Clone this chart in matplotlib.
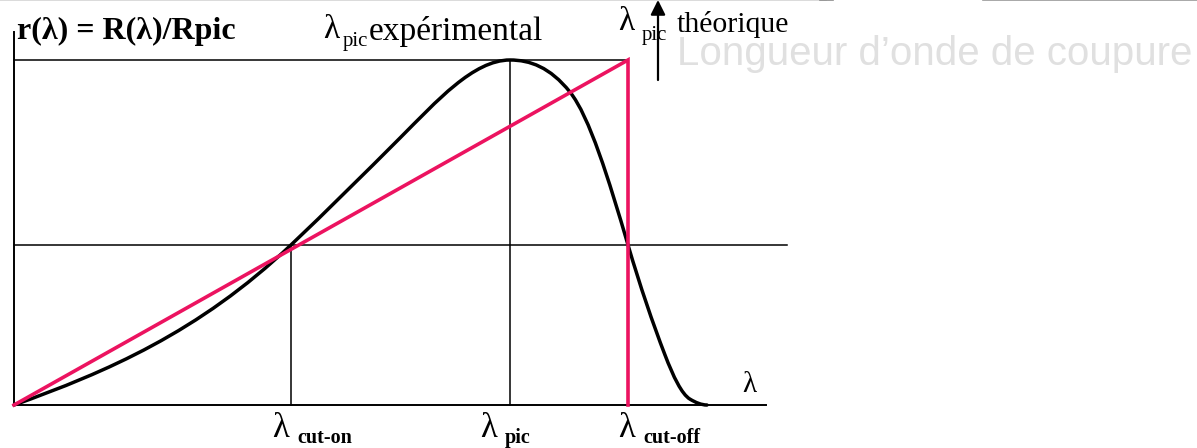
import numpy as np
import matplotlib.pyplot as plt
from matplotlib.path import Path
from matplotlib.patches import PathPatch

# normalised response r(lambda) = R(lambda)/Rpic : knots and local slopes
lam_k = [0.00, 2.77, 3.86, 4.96, 5.56, 6.14, 6.51, 6.76, 6.93]
r_k = [0.000, 0.464, 0.774, 1.000, 0.907, 0.464, 0.145, 0.017, 0.000]
slope_k = [0.104, 0.275, 0.290, 0.0, -0.362, -0.986, -0.754, -0.174, 0.0]

lam_cuton = 2.77
lam_pic = 4.96
lam_cutoff = 6.14
r_cuton = 0.464
lam_theo = 6.44   # arrow for the theoretical peak

red = '#ec1360'
serif = 'Liberation Serif'

fig = plt.figure(figsize=(11.97, 4.48), dpi=100)
ax = fig.add_axes([0, 0, 1, 1])
ax.set_xlim(-0.14, 11.83)
ax.set_ylim(-0.1246, 1.1739)
ax.axis('off')

# frame lines
ax.plot([0, 7.52], [0, 0], color='k', lw=1.4)
ax.plot([0, 0], [0, 1.081], color='k', lw=1.4)
ax.plot([0, lam_cutoff], [1, 1], color='k', lw=1.1)
ax.plot([0, 7.73], [r_cuton, r_cuton], color='k', lw=1.1)
ax.plot([lam_cuton, lam_cuton], [0, r_cuton], color='k', lw=1.1)
ax.plot([lam_pic, lam_pic], [0, 1], color='k', lw=1.1)

# linear approximation up to cut-off
ax.plot([0, lam_cutoff, lam_cutoff], [0, 1, 0], color=red, lw=2.6,
        solid_joinstyle='miter')

# measured curve as cubic segments (Hermite form)
verts = [(lam_k[0], r_k[0])]
codes = [Path.MOVETO]
for i in range(len(lam_k) - 1):
    x0, y0, s0 = lam_k[i], r_k[i], slope_k[i]
    x1, y1, s1 = lam_k[i + 1], r_k[i + 1], slope_k[i + 1]
    d = (x1 - x0) / 3
    verts += [(x0 + d, y0 + s0 * d), (x1 - d, y1 - s1 * d), (x1, y1)]
    codes += [Path.CURVE4] * 3
ax.add_patch(PathPatch(Path(verts, codes), fill=False, edgecolor='k', lw=2.5,
                       capstyle='round'))

# arrow toward theoretical peak
ax.annotate('', xy=(lam_theo, 1.174), xytext=(lam_theo, 0.942),
            annotation_clip=False,
            arrowprops=dict(arrowstyle='-|>', color='k', lw=1.6,
                            mutation_scale=22, shrinkA=0, shrinkB=0))

# top grey rules
ax.plot([0, 0.69], [0.999, 0.999], transform=ax.transAxes, color='#d4d4d4', lw=1.2)
ax.plot([0.685, 0.696], [0.999, 0.999], transform=ax.transAxes, color='#8c8c8c', lw=1.2)
ax.plot([0.821, 1.0], [0.999, 0.999], transform=ax.transAxes, color='#9a9a9a', lw=1.2)

# labels at the top
ax.text(0.03, 1.061, 'r(λ) = R(λ)/Rpic', family=serif, weight='bold',
        fontsize=23, va='baseline', ha='left')
ax.text(3.09, 1.064, 'λ', family=serif, fontsize=24, va='baseline')
ax.text(3.29, 1.040, 'pic', family=serif, fontsize=15, va='baseline')
ax.text(3.55, 1.058, 'expérimental', family=serif, fontsize=24, va='baseline')
ax.text(lam_cutoff - 0.10, 1.088, 'λ', family=serif, fontsize=24, va='baseline')
ax.text(lam_cutoff + 0.14, 1.058, 'pic', family=serif, fontsize=15, va='baseline')
ax.text(lam_cutoff + 0.49, 1.082, 'théorique', family=serif, fontsize=21.5, va='baseline')
ax.text(6.63, 0.985, 'Longueur d’onde de coupure', family='Liberation Sans',
        fontsize=29, color='#e0e0e0', va='baseline')

# wavelength labels under the axis
bottom_labels = [(lam_cuton, 'cut-on', -0.19, 0.06),
                 (lam_pic, 'pic', -0.30, -0.05),
                 (lam_cutoff, 'cut-off', -0.10, 0.15)]
for x0, sub, dl, ds in bottom_labels:
    ax.text(x0 + dl, -0.093, 'λ', family=serif, fontsize=25, va='baseline')
    ax.text(x0 + ds, -0.110, sub, family=serif, weight='bold', fontsize=14.5,
            va='baseline')
ax.text(7.28, 0.038, 'λ', family=serif, fontsize=21, va='baseline')

fig.savefig('out.png', dpi=100)
